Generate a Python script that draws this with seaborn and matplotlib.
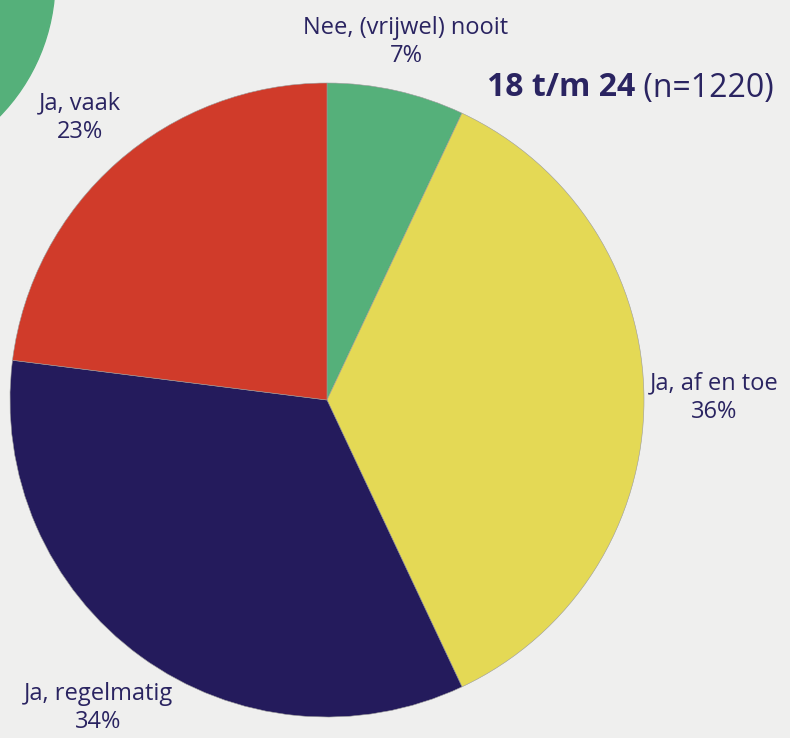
import matplotlib
matplotlib.use('Agg')
import matplotlib.pyplot as plt
import matplotlib.patches as mpatches
import seaborn as sns

# data
categories = ['Nee, (vrijwel) nooit', 'Ja, af en toe', 'Ja, regelmatig', 'Ja, vaak']
percentages = [7, 36, 34, 23]
colors = ['#55b07a', '#e4d955', '#241b5c', '#d03b2a']
title_bold = '18 t/m 24'
title_rest = ' (n=1220)'

sns.set_theme(style='white')
plt.rcParams['font.family'] = ['Open Sans', 'DejaVu Sans']

text_color = '#2a2461'
bg = '#efefee'

fig = plt.figure(figsize=(7.9, 7.38), dpi=100, facecolor=bg)
ax = fig.add_axes([0, 0, 1, 1])
ax.set_facecolor(bg)

# decorative green circle in the corner
ax.add_patch(mpatches.Circle((-140, 758), 195, color='#55b07a', zorder=1))

# pie, clockwise from the top
ax.pie(percentages, colors=colors, startangle=90, counterclock=False,
       center=(327, 338), radius=317, frame=True,
       wedgeprops=dict(edgecolor='#9a9a9a', linewidth=0.4))
ax.set_xlim(0, 790)
ax.set_ylim(0, 738)
ax.set_aspect('equal')
ax.axis('off')

# labels
label_pos = [(406, 696), (714, 340), (98, 30), (80, 620)]
for cat, pct, (x, y) in zip(categories, percentages, label_pos):
    ax.text(x, y, f'{cat}\n{pct}%', ha='center', va='center', fontsize=17,
            color=text_color, linespacing=1.25, zorder=5)

# title
t1 = ax.text(487, 650, title_bold, fontsize=23, fontweight='bold',
             color=text_color, ha='left', va='center')
ax.annotate(title_rest, xy=(1, 0), xycoords=t1, fontsize=23,
            fontweight='normal', color=text_color, ha='left', va='bottom')

plt.savefig('out.png', dpi=100, facecolor=bg)
